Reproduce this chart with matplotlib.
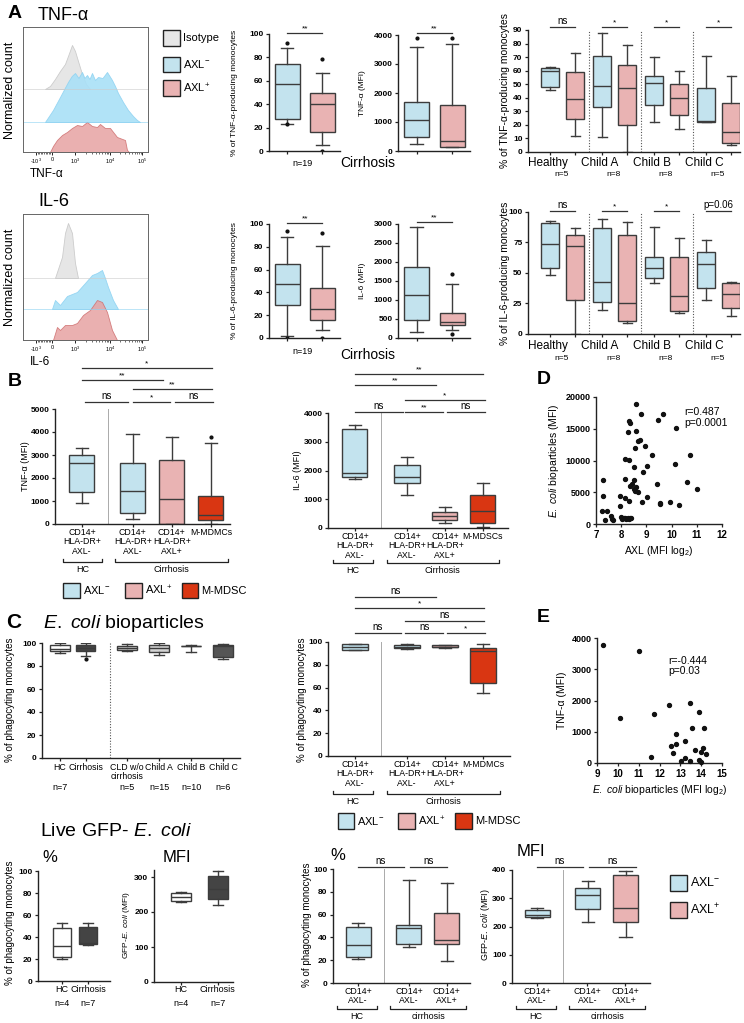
import matplotlib
matplotlib.use('Agg')
import matplotlib.pyplot as plt
import matplotlib.transforms as mtransforms
from matplotlib.patches import Rectangle
import numpy as np

plt.rcParams['font.family'] = ['Liberation Sans', 'DejaVu Sans']
plt.rcParams['mathtext.fontset'] = 'custom'
plt.rcParams['mathtext.rm'] = 'Liberation Sans'
plt.rcParams['mathtext.it'] = 'Liberation Sans:italic'
plt.rcParams['mathtext.bf'] = 'Liberation Sans:bold'

# ---------------- data ----------------
hist_ticks = [104, 232, 416, 696, 952]
hist_ticklabels = ['-10$^3$', '0', '10$^3$', '10$^4$', '10$^5$']

tnf_iso_x = [176, 216, 256, 296, 336, 360, 392, 416, 440, 472, 504, 536]
tnf_iso_h = [0, 3, 10, 18, 25, 33, 44, 38, 28, 15, 5, 0]
tnf_neg_x = [176, 240, 296, 330, 360, 390, 416, 444, 472, 492, 512, 532, 552, 576, 600, 636, 672, 692, 712, 736, 760, 800, 840, 880, 912, 936]
tnf_neg_h = [0, 12, 25, 33, 40, 46, 49, 44, 50, 44, 47, 43, 49, 42, 45, 44, 50, 46, 42, 36, 29, 20, 12, 6, 2, 0]
tnf_pos_x = [216, 240, 272, 312, 352, 392, 432, 472, 512, 552, 592, 616, 656, 696, 752, 816, 832, 848]
tnf_pos_h = [0, 6, 12, 17, 20, 24, 27, 26, 30, 26, 25, 28, 24, 24, 15, 12, 2, 0]

il6_iso_x = [256, 312, 336, 360, 392, 416, 440]
il6_iso_h = [0, 21, 45, 55, 45, 15, 0]
il6_neg_x = [232, 256, 296, 352, 432, 496, 552, 592, 632, 656, 680, 720, 760]
il6_neg_h = [0, 9, 4, 13, 17, 26, 34, 36, 39, 31, 22, 9, 0]
il6_pos_x = [240, 272, 296, 336, 392, 432, 480, 536, 592, 632, 672, 712, 752]
il6_pos_h = [0, 13, 10, 15, 15, 17, 25, 30, 40, 38, 28, 10, 0]

# box stats: [whisker low, q1, median, q3, whisker high]
tnf_pct = [[23, 27, 57, 74, 88], [5, 16, 40, 50, 67]]
tnf_pct_fl = [[92, 23], [79, 0]]
tnf_mfi = [[230, 500, 1080, 1700, 3580], [130, 130, 330, 1600, 3680]]
tnf_mfi_fl = [[3900], [3900]]
il6_pct = [[2, 29, 47, 65, 89], [7, 16, 25, 44, 81]]
il6_pct_fl = [[94, 0], [92, 0]]
il6_mfi = [[150, 480, 1120, 1860, 2920], [200, 330, 430, 650, 1430]]
il6_mfi_fl = [[], [1680, 100]]

child_groups = ['Healthy', 'Child A', 'Child B', 'Child C']
child_n = ['n=5', 'n=8', 'n=8', 'n=5']
tnf_child_neg = [[46, 48, 60, 62, 63], [11, 33, 49, 71, 88], [22, 35, 51, 56, 70], [22, 22, 23, 47, 71]]
tnf_child_pos = [[12, 24, 39, 59, 73], [0, 20, 47, 64, 79], [17, 27, 40, 50, 60], [5, 7, 15, 36, 56]]
tnf_child_sig = ['ns', '*', '*', '*']
il6_child_neg = [[48, 54, 74, 91, 93], [20, 26, 43, 87, 94], [42, 46, 54, 63, 88], [28, 38, 57, 67, 77]]
il6_child_pos = [[0, 28, 72, 81, 87], [9, 11, 25, 81, 92], [17, 19, 31, 63, 79], [15, 21, 33, 42, 43]]
il6_child_sig = ['ns', '*', '*', 'p=0.06']

b_tnf_labels = ['CD14+\nHLA-DR+\nAXL-', 'CD14+\nHLA-DR+\nAXL-', 'CD14+\nHLA-DR+\nAXL+', 'M-MDMCs']
b_il6_labels = ['CD14+\nHLA-DR+\nAXL-', 'CD14+\nHLA-DR+\nAXL-', 'CD14+\nHLA-DR+\nAXL+', 'M-MDSCs']
b_tnf = [[920, 1370, 2660, 3000, 3320], [220, 480, 1420, 2650, 3930], [0, 0, 1100, 2800, 3800], [0, 170, 400, 1230, 3530]]
b_tnf_fl = [[], [], [], [3800]]
b_il6 = [[1720, 1780, 1900, 3450, 3600], [1150, 1570, 1780, 2200, 2480], [180, 280, 420, 560, 730], [30, 180, 600, 1150, 1570]]

d_x = [7.23, 7.42, 7.36, 7.29, 7.29, 7.58, 7.62, 7.69, 7.95, 7.95, 8.0, 8.05, 8.1, 8.15, 8.2, 8.25, 8.3, 8.35, 8.4,
       8.15, 8.15, 8.29, 8.29, 8.33, 8.27, 8.3, 8.42, 8.33, 8.49, 8.5, 8.55, 8.6, 8.65, 8.53, 8.58, 8.59, 8.66, 8.75,
       8.79, 8.82, 8.88, 8.95, 9.02, 9.04, 9.21, 9.41, 9.48, 9.52, 9.52, 9.64, 9.92, 10.12, 10.17, 10.3, 10.6, 10.75,
       11.0, 8.51, 8.15]
d_y = [1995, 1995, 580, 6880, 4460, 1200, 790, 680, 4360, 2780, 1100, 800, 900, 1000, 850, 950, 800, 1000, 900,
       4100, 7090, 10130, 3570, 15900, 14490, 16170, 6350, 5930, 6980, 5500, 5200, 5900, 5000, 11970, 18900, 14700,
       13020, 13280, 17380, 3410, 8190, 12230, 4250, 9190, 10920, 6300, 16430, 3300, 3100, 17325, 3410, 9500, 15120,
       3040, 6560, 10920, 5570, 8980, 10290]

e_x = [9.29, 11.0, 10.12, 11.75, 12.46, 13.45, 13.91, 13.56, 14.12, 12.78, 12.81, 12.57, 13.21, 13.72, 14.09, 14.0,
       12.65, 14.23, 11.61, 13.24, 13.03, 13.45, 13.88, 14.0]
e_y = [3785, 3590, 1447, 1565, 1865, 1908, 1640, 1125, 1125, 943, 600, 547, 707, 407, 482, 354, 332, 300, 193, 161,
       54, 54, 86, 32]

c_groups = ['HC', 'Cirrhosis', 'CLD w/o\ncirrhosis', 'Child A', 'Child B', 'Child C']
c_n = ['n=7', '', 'n=5', 'n=15', 'n=10', 'n=6']
c_pct = [[91, 93, 95, 98, 100], [89, 93, 96, 98, 100], [93, 94, 96, 97, 99], [90, 92, 96, 98, 100],
         [92, 97, 97, 97, 98], [86, 88, 97, 98, 99]]
c_pct_fl = [[], [86], [], [], [], []]
c_right = [[93, 93, 96, 98, 98], [94, 95, 96, 97, 98], [95, 96, 96, 97, 97], [55, 64, 92, 95, 98]]

live_groups = ['HC', 'Cirrhosis']
live_n = ['n=4', 'n=7']
live_pct = [[20, 22, 32, 48, 53], [33, 34, 35, 49, 53]]
live_mfi = [[228, 232, 242, 254, 258], [220, 237, 265, 302, 316]]
live_axl_labels = ['CD14+\nAXL-', 'CD14+\nAXL-', 'CD14+\nAXL+']
live_pct_axl = [[21, 23, 33, 49, 53], [32, 34, 48, 51, 90], [19, 34, 38, 61, 88]]
live_mfi_axl = [[230, 234, 241, 258, 265], [216, 262, 311, 336, 361], [163, 216, 266, 382, 396]]

# ---------------- style ----------------
BLUE = '#c3e3ee'
PINK = '#e9b3b3'
RED = '#d93612'
EDGE = '#3c3c3c'
HBLUE = '#a9e0f7'
HRED = '#e7a3a3'
HGRAY = '#e6e6e6'

W, H = 744, 1023
fig = plt.figure(figsize=(W / 100, H / 100), dpi=100)
PX = mtransforms.Affine2D().scale(1 / W, -1 / H).translate(0, 1) + fig.transFigure


def add_ax(l, t, r, b):
    return fig.add_axes([l / W, 1 - b / H, (r - l) / W, (b - t) / H])


def ftext(x, y, s, **kw):
    kw.setdefault('ha', 'left')
    kw.setdefault('va', 'center')
    fig.text(x / W, 1 - y / H, s, **kw)


def legend_box(l, t, r, b, color, label, fs=8):
    fig.add_artist(Rectangle((l / W, 1 - b / H), (r - l) / W, (b - t) / H, transform=fig.transFigure,
                             facecolor=color, edgecolor='#222222', linewidth=1.0))
    ftext(r + 3, (t + b) / 2, label, fontsize=fs)


def style_ax(ax, xlim, ylim, yticks, pos):
    ax.set_xlim(xlim)
    ax.set_ylim(ylim)
    for s in ['top', 'right']:
        ax.spines[s].set_visible(False)
    for s in ['left', 'bottom']:
        ax.spines[s].set_linewidth(1.0)
        ax.spines[s].set_color('#222222')
    ax.set_yticks(yticks)
    ax.set_yticklabels([str(t) for t in yticks], fontsize=6, fontweight='bold')
    ax.set_xticks(pos)
    ax.set_xticklabels([])
    ax.tick_params(length=2.5, width=0.9, pad=1.5, color='#222222')
    ax.patch.set_alpha(0)


def draw_boxes(ax, pos, stats, colors, width, fliers=None, lw=1.0, medc=EDGE):
    data = []
    for i, s in enumerate(stats):
        data.append(dict(whislo=s[0], q1=s[1], med=s[2], q3=s[3], whishi=s[4],
                         fliers=(fliers[i] if fliers else [])))
    r = ax.bxp(data, positions=pos, widths=width, capwidths=width * 0.5, patch_artist=True,
               manage_ticks=False, showfliers=True,
               boxprops=dict(edgecolor=EDGE, linewidth=lw),
               whiskerprops=dict(color=EDGE, linewidth=lw),
               capprops=dict(color=EDGE, linewidth=lw),
               medianprops=dict(color=medc, linewidth=lw),
               flierprops=dict(marker='o', markersize=2, markerfacecolor='#111', markeredgecolor='#111'))
    for b, c in zip(r['boxes'], colors):
        b.set_facecolor(c)


def sig(ax, x1, x2, ypx, txt, fs=None):
    if fs is None:
        fs = 6 if '*' in txt else 7
    tr = mtransforms.blended_transform_factory(ax.transData, PX)
    ax.plot([x1, x2], [ypx, ypx], transform=tr, color='#333333', lw=0.9, clip_on=False)
    ax.text((x1 + x2) / 2, ypx - 1, txt, transform=tr, ha='center', va='bottom', fontsize=fs, clip_on=False)


def under(ax, x, ypx, txt, fs=6.3, **kw):
    tr = mtransforms.blended_transform_factory(ax.transData, PX)
    kw.setdefault('va', 'top')
    ax.text(x, ypx, txt, transform=tr, ha='center', fontsize=fs, clip_on=False, linespacing=1.05, **kw)


def bracket(ax, x1, x2, ypx, txt, fs=6.5):
    tr = mtransforms.blended_transform_factory(ax.transData, PX)
    ax.plot([x1, x1, x2, x2], [ypx - 3, ypx, ypx, ypx - 3], transform=tr, color='#222222', lw=0.9, clip_on=False)
    ax.text((x1 + x2) / 2, ypx + 3, txt, transform=tr, ha='center', va='top', fontsize=fs, clip_on=False)


def hist_panel(box, xs, hs, base, ylim, title, ty, xl, xly, nly):
    ax = add_ax(*box)
    ax.set_xlim(0, 1000)
    ax.set_ylim(0, ylim)
    cols = [(HGRAY, '#cccccc', 1.0), (HBLUE, '#8fd3f2', 0.9), (HRED, '#cf6f6f', 0.85)]
    for (x, h, b0, (fc, ec, a)) in zip(xs, hs, base, cols):
        ax.axhline(b0, color=ec, lw=0.6, alpha=0.7)
        ax.fill_between(x, b0, np.array(h) + b0, facecolor=fc, edgecolor=ec, lw=0.6, alpha=a)
    ax.set_xticks(hist_ticks)
    ax.set_xticklabels(hist_ticklabels, fontsize=4)
    minors = [232 - 128 * k / 10 for k in range(1, 10)] + \
             [416 + 280 * np.log10(k) for k in range(2, 10)] + [696 + 256 * np.log10(k) for k in range(2, 10)]
    ax.set_xticks(minors, minor=True)
    ax.tick_params(axis='x', which='major', length=2.5, width=0.6, pad=1)
    ax.tick_params(axis='x', which='minor', length=1.5, width=0.4)
    ax.set_yticks([])
    for s in ax.spines.values():
        s.set_linewidth(0.7)
        s.set_color('#666666')
    ftext(38, ty, title, fontsize=13)
    ftext(30, xly, xl, fontsize=8.5)
    ftext(10, nly, 'Normalized count', fontsize=9, rotation=90, ha='center')
    return ax


# ---------------- Panel A ----------------
ftext(8, 13, 'A', fontsize=14, fontweight='bold')
hist_panel((23, 27, 148, 152), [tnf_iso_x, tnf_neg_x, tnf_pos_x], [tnf_iso_h, tnf_neg_h, tnf_pos_h],
           [63, 30, 0], 125, 'TNF-α', 15, 'TNF-α', 174, 90)
hist_panel((23, 214, 148, 340), [il6_iso_x, il6_neg_x, il6_pos_x], [il6_iso_h, il6_neg_h, il6_pos_h],
           [62, 31, 0], 126, 'IL-6', 202, 'IL-6', 362, 277)
legend_box(163, 30, 180, 46, HGRAY, 'Isotype')
legend_box(163, 57, 180, 72, BLUE, r'AXL$^{-}$')
legend_box(163, 80, 180, 96, PINK, r'AXL$^{+}$')


def pair_panel(box, stats, fl, ylim, yticks, sigpx, ylabel, ylx):
    ax = add_ax(*box)
    pos = [0, 1]
    draw_boxes(ax, pos, stats, [BLUE, PINK], 0.7, fliers=fl)
    l, t, r, b = box
    style_ax(ax, (-0.52, 1.5), ylim, yticks, pos)
    sig(ax, 0, 1, sigpx, '**')
    ftext(ylx, (t + b) / 2, ylabel, fontsize=6, rotation=90, ha='center')
    return ax


pair_panel((269, 34, 340, 151), tnf_pct, tnf_pct_fl, (0, 100), list(range(0, 101, 20)), 33,
           '% of TNF-α-producing monocytes', 235)
pair_panel((398, 35, 470, 151), tnf_mfi, tnf_mfi_fl, (0, 4000), list(range(0, 4001, 1000)), 33,
           'TNF-α (MFI)', 362)
pair_panel((269, 224, 340, 338), il6_pct, il6_pct_fl, (0, 100), list(range(0, 101, 20)), 223,
           '% of IL-6-producing monocytes', 235)
pair_panel((398, 224, 470, 338), il6_mfi, il6_mfi_fl, (0, 3000), list(range(0, 3001, 500)), 222,
           'IL-6 (MFI)', 362)
for y in (163, 352):
    ftext(303, y, 'n=19', fontsize=6.5, ha='center')
ftext(368, 163, 'Cirrhosis', fontsize=10, ha='center')
ftext(368, 355, 'Cirrhosis', fontsize=10, ha='center')


def child_panel(box, neg, pos_stats, ylim, yticks, sigs, sigpx, ylabel, laby):
    ax = add_ax(*box)
    gpos = [g * 2.08 for g in range(4)]
    pos = []
    stats = []
    cols = []
    for g in range(4):
        pos += [gpos[g], gpos[g] + 1]
        stats += [neg[g], pos_stats[g]]
        cols += [BLUE, PINK]
    draw_boxes(ax, pos, stats, cols, 0.72)
    style_ax(ax, (-0.88, 7.6), ylim, yticks, pos)
    for g in range(1, 4):
        ax.axvline(gpos[g] - 0.52, ymin=0, ymax=1, color='#555555', lw=0.8, ls=(0, (1, 1.5)))
    for g in range(4):
        sig(ax, gpos[g], gpos[g] + 1, sigpx, sigs[g])
        under(ax, gpos[g] - 0.08, laby, child_groups[g], fs=8.5, va='center')
        under(ax, gpos[g] + 0.45, laby + 12, child_n[g], fs=6, va='center')
    l, t, r, b = box
    ftext(505, (t + b) / 2, ylabel, fontsize=7.5, rotation=90, ha='center')


child_panel((528, 30, 740, 152), tnf_child_neg, tnf_child_pos, (0, 90), list(range(0, 91, 10)),
            tnf_child_sig, 27, '% of TNF-α-producing monocytes', 163)
child_panel((528, 212, 740, 334), il6_child_neg, il6_child_pos, (0, 100), [0, 25, 50, 75, 100],
            il6_child_sig, 211, '% of IL-6-producing monocytes', 346)

# ---------------- Panel B ----------------
ftext(8, 381, 'B', fontsize=14, fontweight='bold')
bpos = [0, 1.3, 2.3, 3.3]
ax = add_ax(55, 409, 230, 524)
draw_boxes(ax, bpos, b_tnf, [BLUE, BLUE, PINK, RED], 0.64, fliers=b_tnf_fl)
style_ax(ax, (-0.69, 3.79), (0, 5000), list(range(0, 5001, 1000)), bpos)
ax.axvline(0.67, color='#aaaaaa', lw=0.7)
for p, lab in zip(bpos, b_tnf_labels):
    under(ax, p, 528, lab)
bracket(ax, -0.49, 0.51, 562, 'HC')
bracket(ax, 0.85, 3.75, 562, 'Cirrhosis')
sig(ax, 0, 3.33, 368, '*')
sig(ax, 0, 2.08, 380, '**')
sig(ax, 1.3, 3.33, 389, '**')
sig(ax, 0.08, 1.18, 402, 'ns')
sig(ax, 1.3, 2.26, 402, '*')
sig(ax, 2.38, 3.36, 402, 'ns')
ftext(25, 466, 'TNF-α (MFI)', fontsize=6.5, rotation=90, ha='center')

bpos2 = [0, 1.37, 2.37, 3.37]
ax = add_ax(328, 413, 508, 528)
draw_boxes(ax, bpos2, b_il6, [BLUE, BLUE, PINK, RED], 0.66)
style_ax(ax, (-0.71, 4.03), (0, 4000), list(range(0, 4001, 1000)), bpos2)
ax.axvline(0.68, color='#aaaaaa', lw=0.7)
for p, lab in zip(bpos2, b_il6_labels):
    under(ax, p, 532, lab)
bracket(ax, -0.58, 0.47, 563, 'HC')
bracket(ax, 0.84, 3.79, 563, 'Cirrhosis')
sig(ax, 0, 3.37, 374, '**')
sig(ax, 0, 2.13, 385, '**')
sig(ax, 1.32, 3.42, 400, '*')
sig(ax, 0, 1.26, 412, 'ns')
sig(ax, 1.32, 2.32, 412, '**')
sig(ax, 2.42, 3.42, 412, 'ns')
ftext(298, 470, 'IL-6 (MFI)', fontsize=6.5, rotation=90, ha='center')

legend_box(63, 583, 80, 598, BLUE, r'AXL$^{-}$')
legend_box(125, 583, 142, 598, PINK, r'AXL$^{+}$')
legend_box(182, 583, 198, 598, RED, 'M-MDSC')

# ---------------- Panel D ----------------
ftext(537, 380, 'D', fontsize=14, fontweight='bold')
ax = add_ax(596, 397, 722, 524)
ax.scatter(d_x, d_y, s=8, color='#111111', zorder=3, clip_on=False)
style_ax(ax, (7, 12), (0, 20000), [0, 5000, 10000, 15000, 20000], list(range(7, 13)))
ax.set_xticklabels([str(v) for v in range(7, 13)], fontsize=7, fontweight='bold')
ax.set_yticklabels(['0', '5000', '10000', '15000', '20000'], fontsize=6.5, fontweight='bold')
ax.set_xlabel(r'AXL (MFI log$_2$)', fontsize=7.5, labelpad=3)
ax.set_ylabel(r'$\it{E.\ coli}$ bioparticles (MFI)', fontsize=7.5, labelpad=3)
ax.text(0.7, 0.92, 'r=0.487\np=0.0001', transform=ax.transAxes, fontsize=7.5, va='top', linespacing=1.1)

# ---------------- Panel E ----------------
ftext(537, 618, 'E', fontsize=14, fontweight='bold')
ax = add_ax(597, 638, 722, 763)
ax.scatter(e_x, e_y, s=8, color='#111111', zorder=3, clip_on=False)
style_ax(ax, (9, 15), (0, 4000), [0, 1000, 2000, 3000, 4000], list(range(9, 16)))
ax.set_xticklabels([str(v) for v in range(9, 16)], fontsize=7, fontweight='bold')
ax.set_yticklabels(['0', '1000', '2000', '3000', '4000'], fontsize=6.5, fontweight='bold')
ax.set_xlabel(r'$\it{E.\ coli}$ bioparticles (MFI log$_2$)', fontsize=7.5, labelpad=3)
ax.set_ylabel('TNF-α (MFI)', fontsize=7.5, labelpad=3)
ax.text(0.57, 0.86, 'r=-0.444\np=0.03', transform=ax.transAxes, fontsize=7.5, va='top', linespacing=1.1)

# ---------------- Panel C ----------------
ftext(6, 623, 'C', fontsize=15, fontweight='bold')
ftext(43, 623, r'$\it{E.\ coli}$ bioparticles', fontsize=14)
cpos = [0, 0.8, 2.1, 3.1, 4.1, 5.1]
ax = add_ax(42, 643, 240, 758)
draw_boxes(ax, cpos, c_pct, ['white', '#444444', '#d2d2d2', '#d2d2d2', 'white', '#555555'], 0.62,
           fliers=c_pct_fl)
style_ax(ax, (-0.56, 5.63), (0, 100), list(range(0, 101, 20)), cpos)
ax.axvline(1.56, color='#555555', lw=0.8, ls=(0, (1, 1.5)))
for p, lab, n in zip(cpos, c_groups, c_n):
    under(ax, p, 763, lab, fs=6.3)
    under(ax, p, 788, n, fs=6.5, va='center')
ftext(10, 700, '% of phagocyting monocytes', fontsize=7, rotation=90, ha='center')

ax = add_ax(328, 642, 510, 756)
draw_boxes(ax, bpos2, c_right, [BLUE, BLUE, PINK, RED], 0.66)
style_ax(ax, (-0.71, 4.08), (0, 100), list(range(0, 101, 20)), bpos2)
ax.axvline(0.68, color='#aaaaaa', lw=0.7)
for p, lab in zip(bpos2, b_tnf_labels):
    under(ax, p, 760, lab)
bracket(ax, -0.58, 0.47, 794, 'HC')
bracket(ax, 0.84, 3.82, 794, 'Cirrhosis')
sig(ax, 0, 2.13, 597, 'ns')
sig(ax, 0, 3.39, 608, '*')
sig(ax, 1.32, 3.39, 621, 'ns')
sig(ax, 0, 1.21, 633, 'ns')
sig(ax, 1.32, 2.32, 633, 'ns')
sig(ax, 2.42, 3.42, 633, '*')
ftext(302, 700, '% of phagocyting monocytes', fontsize=7, rotation=90, ha='center')

legend_box(338, 813, 354, 829, BLUE, r'AXL$^{-}$')
legend_box(398, 813, 415, 829, PINK, r'AXL$^{+}$')
legend_box(455, 813, 472, 829, RED, 'M-MDSC')

# ---------------- Live GFP E. coli ----------------
ftext(40, 832, r'Live GFP- $\it{E.\ coli}$', fontsize=14)
ftext(42, 858, '%', fontsize=12)
ftext(163, 858, 'MFI', fontsize=12)
ftext(330, 856, '%', fontsize=12)
ftext(517, 852, 'MFI', fontsize=12)

lpos = [0, 1]
ax = add_ax(38, 871, 110, 981)
draw_boxes(ax, lpos, live_pct, ['white', '#444444'], 0.72)
style_ax(ax, (-0.92, 1.85), (0, 100), list(range(0, 101, 20)), lpos)
for p, lab, n in zip(lpos, live_groups, live_n):
    under(ax, p, 985, lab, fs=6.5)
    under(ax, p, 1003, n, fs=6.5, va='center')
ftext(10, 923, '% of phagocyting monocytes', fontsize=7, rotation=90, ha='center')

ax = add_ax(154, 870, 233, 982)
draw_boxes(ax, lpos, live_mfi, ['white', '#444444'], 0.55)
style_ax(ax, (-0.73, 1.41), (0, 320), [0, 100, 200, 300], lpos)
for p, lab, n in zip(lpos, live_groups, live_n):
    under(ax, p, 985, lab, fs=6.5)
    under(ax, p, 1003, n, fs=6.5, va='center')
ftext(127, 925, r'GFP-$\it{E.\ coli}$ (MFI)', fontsize=6, rotation=90, ha='center')

apos = [0, 1.34, 2.34]
ax = add_ax(333, 869, 470, 983)
draw_boxes(ax, apos, live_pct_axl, [BLUE, BLUE, PINK], 0.66)
style_ax(ax, (-0.66, 2.95), (0, 100), list(range(0, 101, 20)), apos)
ax.axvline(0.68, color='#aaaaaa', lw=0.7)
for p, lab in zip(apos, live_axl_labels):
    under(ax, p, 987, lab)
bracket(ax, -0.55, 0.5, 1009, 'HC')
bracket(ax, 0.85, 2.85, 1009, 'cirrhosis')
sig(ax, 0, 1.21, 867, 'ns')
sig(ax, 1.37, 2.34, 867, 'ns')
ftext(307, 925, '% of phagocyting monocytes', fontsize=7, rotation=90, ha='center')

ax = add_ax(512, 870, 650, 983)
draw_boxes(ax, apos, live_mfi_axl, [BLUE, BLUE, PINK], 0.66)
style_ax(ax, (-0.66, 2.98), (0, 400), [0, 100, 200, 300, 400], [0, 1.32, 2.32])
ax.axvline(0.68, color='#aaaaaa', lw=0.7)
for p, lab in zip(apos, live_axl_labels):
    under(ax, p, 987, lab)
bracket(ax, -0.55, 0.5, 1009, 'HC')
bracket(ax, 0.85, 2.85, 1009, 'cirrhosis')
sig(ax, 0, 1.21, 867, 'ns')
sig(ax, 1.37, 2.6, 867, 'ns')
ftext(485, 925, r'GFP-$\it{E.\ coli}$ (MFI)', fontsize=6.5, rotation=90, ha='center')

legend_box(670, 875, 687, 891, BLUE, r'AXL$^{-}$', fs=9)
legend_box(670, 902, 687, 918, PINK, r'AXL$^{+}$', fs=9)

fig.savefig('out.png', dpi=100)
